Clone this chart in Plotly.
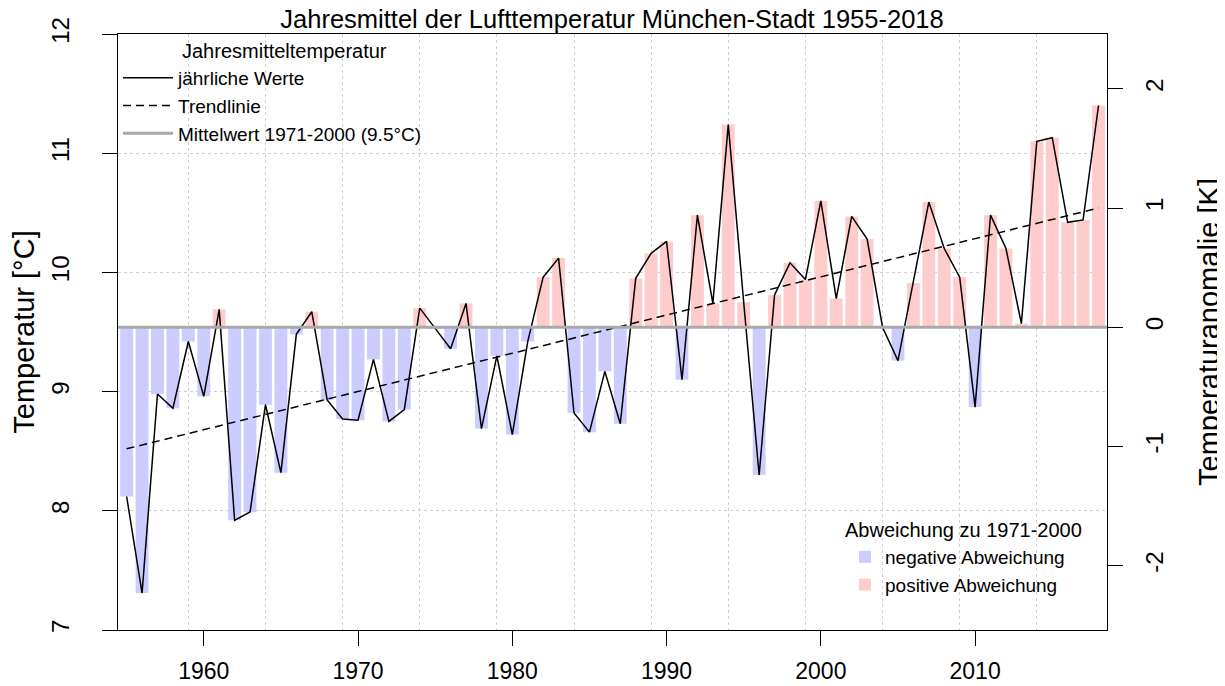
import plotly.graph_objects as go

# Jahresmittel München-Stadt, 1955-2018 (°C)
years = list(range(1955, 2019))
temps = [
    8.12, 7.31, 8.98, 8.86, 9.42, 8.96, 9.69, 7.92, 7.99, 8.89,
    8.32, 9.48, 9.67, 8.93, 8.77, 8.76, 9.27, 8.75, 8.85, 9.70,
    9.53, 9.36, 9.74, 8.69, 9.30, 8.64, 9.42, 9.96, 10.12, 8.82,
    8.66, 9.17, 8.73, 9.95, 10.16, 10.26, 9.10, 10.48, 9.74, 11.24,
    9.75, 8.30, 9.81, 10.08, 9.94, 10.60, 9.78, 10.47, 10.28, 9.54,
    9.26, 9.91, 10.59, 10.20, 9.96, 8.87, 10.48, 10.20, 9.57, 11.10,
    11.13, 10.42, 10.44, 11.40,
]
mean_7100 = 9.54
trend_years = [1955, 2018]
trend_temps = [8.52, 10.54]

x_ticks = [1960, 1970, 1980, 1990, 2000, 2010]
y_ticks = [7, 8, 9, 10, 11, 12]
anom_ticks = [-2, -1, 0, 1, 2]
anom_labels = ["-2", "-1", "0", "1", "2"]
x_range = [1954.44, 2018.55]
y_range = [7, 12]

FONT = "Liberation Sans, Arial, Helvetica, sans-serif"

# page body adds an 8px margin, so the figure is a bit smaller than the window
W, H = 1217, 678
PLOT_L, PLOT_R, PLOT_T, PLOT_B = 118, 1107, 34, 630   # window pixels


def px(x):
    return (x - PLOT_L) / (PLOT_R - PLOT_L)


def py_(y):
    return (PLOT_B - y) / (PLOT_B - PLOT_T)


neg_years = [y for y, t in zip(years, temps) if t < mean_7100]
neg_dev = [t - mean_7100 for t in temps if t < mean_7100]
pos_years = [y for y, t in zip(years, temps) if t >= mean_7100]
pos_dev = [t - mean_7100 for t in temps if t >= mean_7100]

fig = go.Figure()

fig.add_trace(go.Bar(
    x=neg_years, y=neg_dev, base=mean_7100, width=0.833,
    marker=dict(color="#ccccff", line=dict(width=0)),
    name="negative Abweichung", legend="legend2", legendrank=1,
))
fig.add_trace(go.Bar(
    x=pos_years, y=pos_dev, base=mean_7100, width=0.833,
    marker=dict(color="#ffcccc", line=dict(width=0)),
    name="positive Abweichung", legend="legend2", legendrank=2,
))
fig.add_trace(go.Scatter(
    x=years, y=temps, mode="lines",
    line=dict(color="black", width=1.5),
    name="jährliche Werte", legendrank=1,
))
fig.add_trace(go.Scatter(
    x=trend_years, y=trend_temps, mode="lines",
    line=dict(color="black", width=1.5, dash="8px,5px"),
    name="Trendlinie", legendrank=2,
))
# mean line sits at anomaly 0 on the right-hand axis
fig.add_trace(go.Scatter(
    x=x_range, y=[0, 0], yaxis="y2", mode="lines",
    line=dict(color="#a9a9a9", width=3),
    name="Mittelwert 1971-2000 (9.5°C)", legendrank=3,
))

fig.update_layout(
    width=W, height=H,
    margin=dict(l=PLOT_L - 8, r=W - (PLOT_R - 8), t=PLOT_T - 8, b=H - (PLOT_B - 8)),
    paper_bgcolor="white", plot_bgcolor="white",
    font=dict(family=FONT, size=24, color="black"),
    barmode="overlay",
    title=dict(text="Jahresmittel der Lufttemperatur München-Stadt 1955-2018",
               x=px(612), xref="paper", xanchor="center",
               y=1 - 11 / H, yanchor="middle",
               font=dict(size=25.5)),
    xaxis=dict(
        range=x_range, tickvals=x_ticks, showgrid=False, zeroline=False,
        showline=True, mirror=True, linecolor="black", linewidth=1.3,
        ticks="outside", ticklen=15, tickwidth=1.3, tickcolor="black",
        ticklabelstandoff=5, tickfont=dict(size=23), automargin=False,
        minor=dict(tick0=1959, dtick=5, showgrid=True, gridcolor="#d0d0d0",
                   griddash="dot", gridwidth=1, ticks=""),
    ),
    yaxis=dict(
        range=y_range, tickvals=y_ticks, tickangle=-90,
        showgrid=True, gridcolor="#d0d0d0", griddash="dot", gridwidth=1,
        zeroline=False, showline=True, mirror=True, linecolor="black",
        linewidth=1.3, ticks="outside", ticklen=15, tickwidth=1.3,
        tickcolor="black", ticklabelstandoff=23, automargin=False,
        title=dict(text="Temperatur [°C]", standoff=25),
    ),
    yaxis2=dict(
        overlaying="y", side="right", anchor="x",
        range=[y_range[0] - mean_7100, y_range[1] - mean_7100],
        tickvals=anom_ticks, ticktext=anom_labels, tickangle=-90,
        showgrid=False, zeroline=False,
        showline=True, linecolor="black", linewidth=1.3,
        ticks="outside", ticklen=15, tickwidth=1.3, tickcolor="black",
        ticklabelstandoff=11, automargin=False,
        title=dict(text="Temperaturanomalie [K]", standoff=31),
    ),
    legend=dict(
        x=0.0, y=py_(59), xanchor="left", yanchor="top", itemwidth=50,
        font=dict(size=19), bgcolor="rgba(0,0,0,0)", tracegroupgap=0,
    ),
    legend2=dict(
        x=px(845), y=py_(538), xanchor="left", yanchor="top",
        font=dict(size=19), bgcolor="rgba(0,0,0,0)", tracegroupgap=0,
    ),
    annotations=[
        dict(text="Jahresmitteltemperatur", xref="paper", yref="paper",
             x=px(180), y=py_(51), xanchor="left",
             yanchor="middle", showarrow=False, font=dict(size=20)),
        dict(text="Abweichung zu 1971-2000", xref="paper", yref="paper",
             x=px(963), y=py_(530), xanchor="center",
             yanchor="middle", showarrow=False, font=dict(size=20)),
    ],
)

fig.write_html("out.html")
